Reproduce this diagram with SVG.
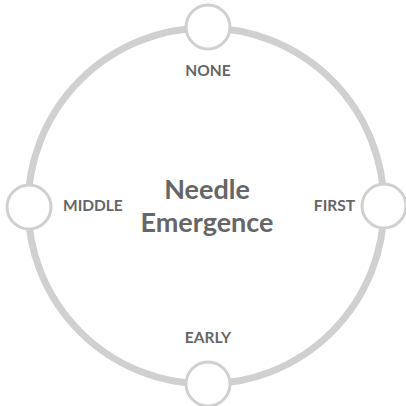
<svg xmlns="http://www.w3.org/2000/svg" width="406" height="406" viewBox="0 0 406 406">
<style>
.ring{fill:none;stroke:#d0d0d0;stroke-width:7}
.node{fill:#fff;stroke:#d0d0d0;stroke-width:3}
.lbl{font-family:Lato,"Liberation Sans",sans-serif;font-weight:bold;font-size:15.5px;fill:#666}
.title{font-family:Lato,"Liberation Sans",sans-serif;font-weight:bold;font-size:27px;fill:#666;text-anchor:middle}
</style>
<g id="connectors">
<circle class="ring" cx="206" cy="206" r="178"/>
</g>
<g id="center">
<text class="title" x="207" y="199">Needle</text>
<text class="title" x="207" y="232">Emergence</text>
</g>
<g id="none">
<circle class="node" cx="208" cy="27" r="22"/>
<text class="lbl" x="208" y="76" text-anchor="middle">NONE</text>
</g>
<g id="first">
<circle class="node" cx="384" cy="206" r="22"/>
<text class="lbl" x="355" y="211" text-anchor="end">FIRST</text>
</g>
<g id="early">
<circle class="node" cx="208" cy="384" r="22"/>
<text class="lbl" x="208" y="343" text-anchor="middle">EARLY</text>
</g>
<g id="middle">
<circle class="node" cx="29" cy="207" r="22"/>
<text class="lbl" x="63" y="211">MIDDLE</text>
</g>
</svg>
